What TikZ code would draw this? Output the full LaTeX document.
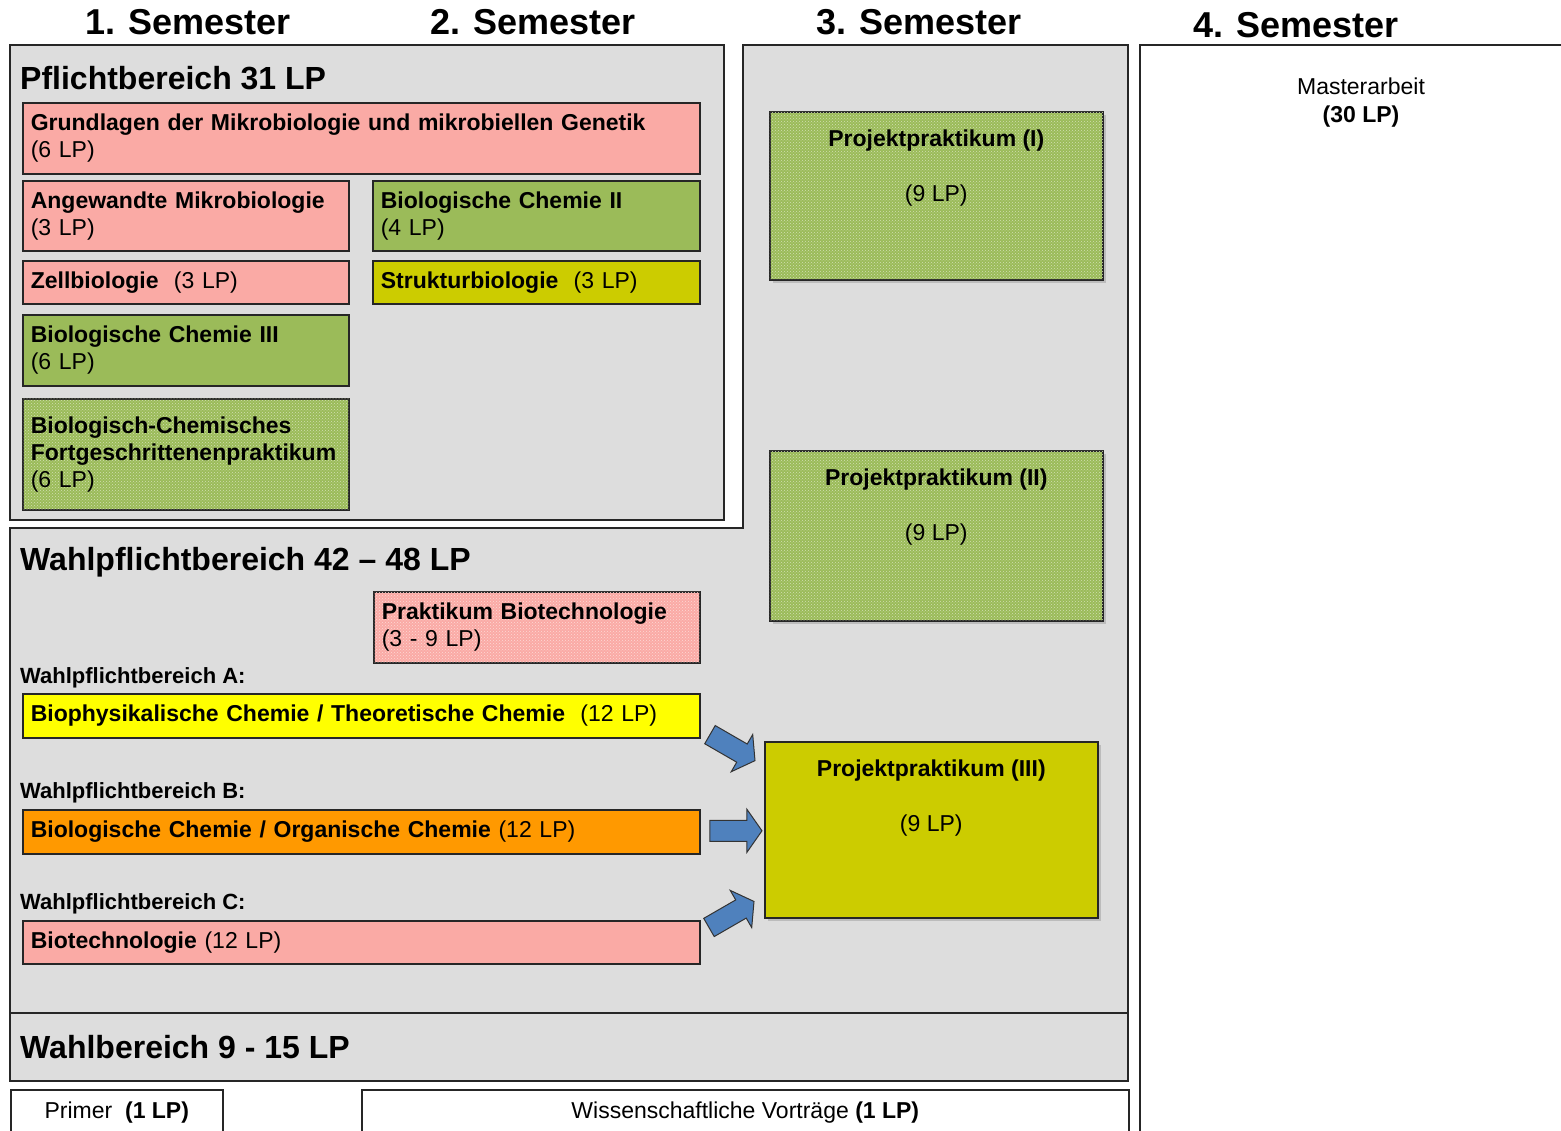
\documentclass[tikz,border=0pt]{standalone}
\usepackage{fontspec}
\setmainfont{Liberation Sans}
\usepackage{tikz}
\usetikzlibrary{arrows,shapes,positioning,shadows,patterns,calc}
\usepackage{xcolor}
\definecolor{mbgray}{RGB}{221,221,221}
\definecolor{mbpink}{RGB}{250,170,165}
\definecolor{mbgreen}{RGB}{155,187,89}
\definecolor{mbolive}{RGB}{204,204,0}
\definecolor{mbyellow}{RGB}{255,255,0}
\definecolor{mborange}{RGB}{255,153,0}
\definecolor{mbblue}{RGB}{79,129,189}
\tikzstyle{area} = [draw=black!85, line width=1.6pt, fill=mbgray]
\tikzstyle{modbox} = [draw=black!85, line width=1.6pt, anchor=north west, align=left, inner xsep=8pt, inner ysep=0pt]
\tikzstyle{grain} = [postaction={pattern=crosshatch dots, pattern color=white!55!#1}]
\tikzstyle{ppbox} = [draw=black!85, line width=1.6pt, anchor=north west, minimum width=333pt, drop shadow={shadow xshift=3pt, shadow yshift=-3pt, opacity=0.35}]
\tikzstyle{pptext} = [anchor=north, align=center, inner sep=0pt]
\tikzstyle{title} = [anchor=west, inner sep=0pt, font=\fontsize{32}{38}\selectfont\bfseries]
\tikzstyle{sublabel} = [anchor=west, inner sep=0pt, font=\fontsize{22}{26}\selectfont\bfseries]
\tikzstyle{semester} = [inner sep=0pt, font=\fontsize{36}{40}\selectfont\bfseries]
\tikzstyle{blockarrow} = [single arrow, draw=black!80, fill=mbblue, line width=1pt, inner xsep=0pt, inner ysep=10pt, minimum height=52pt, single arrow head extend=11pt, single arrow tip angle=110]

\begin{document}
\begin{tikzpicture}[x=1pt, y=-1pt, font=\fontsize{23}{27}\selectfont]
\useasboundingbox (0,0) rectangle (1561,1131);

% Semester headings
\node[semester] (sem1) at (188,22) {1. Semester};
\node[semester] (sem2) at (533,22) {2. Semester};
\node[semester] (sem3) at (919,22) {3. Semester};
\node[semester] (sem4) at (1296,25) {4. Semester};

% Areas
\draw[area] (10,45) rectangle (724,520);
\draw[area] (743,45) -- (1128,45) -- (1128,1013) -- (10,1013) -- (10,528) -- (743,528) -- cycle;
\draw[area] (10,1013) rectangle (1128,1081);
\draw[draw=black!85, line width=1.6pt] (1140,1140) -- (1140,45) -- (1570,45);

\node[title] (pflicht) at (20,78) {Pflichtbereich 31 LP};
\node[title] (wpflicht) at (20,562) {Wahlpflichtbereich 42 -- 48 LP};
\node[title] (wahl) at (20,1047) {Wahlbereich 9 - 15 LP};

% Pflichtbereich
\node[modbox, fill=mbpink, minimum width=677pt, text width=661pt, minimum height=71pt] (grund) at (22,102)
  {\textbf{Grundlagen der Mikrobiologie und mikrobiellen Genetik}\\(6 LP)};
\node[modbox, fill=mbpink, minimum width=326pt, text width=310pt, minimum height=70pt] (angew) at (22,180)
  {\textbf{Angewandte Mikrobiologie}\\(3 LP)};
\node[modbox, fill=mbgreen, minimum width=327pt, text width=311pt, minimum height=70pt] (biochII) at (372,180)
  {\textbf{Biologische Chemie II}\\(4 LP)};
\node[modbox, fill=mbpink, minimum width=326pt, text width=310pt, minimum height=43pt] (zell) at (22,260)
  {\textbf{Zellbiologie}\ \ (3 LP)};
\node[modbox, fill=mbolive, minimum width=327pt, text width=311pt, minimum height=43pt] (struktur) at (372,260)
  {\textbf{Strukturbiologie}\ \ (3 LP)};
\node[modbox, fill=mbgreen, minimum width=326pt, text width=310pt, minimum height=71pt] (biochIII) at (22,314)
  {\textbf{Biologische Chemie III}\\(6 LP)};
\node[modbox, fill=mbgreen, grain=mbgreen, minimum width=326pt, text width=310pt, minimum height=111pt] (fopra) at (22,398)
  {\textbf{Biologisch-Chemisches}\\\textbf{Fortgeschrittenenpraktikum}\\(6 LP)};

% Projektpraktika
\node[ppbox, fill=mbgreen, grain=mbgreen, minimum height=168pt] (pp1) at (769,111) {};
\node[pptext] (pp1txt) at ([yshift=-19pt]pp1.north) {\textbf{Projektpraktikum (I)}\\[28pt](9 LP)};
\node[ppbox, fill=mbgreen, grain=mbgreen, minimum height=170pt] (pp2) at (769,450) {};
\node[pptext] (pp2txt) at ([yshift=-19pt]pp2.north) {\textbf{Projektpraktikum (II)}\\[28pt](9 LP)};
\node[ppbox, fill=mbolive, minimum height=176pt] (pp3) at (764,741) {};
\node[pptext] (pp3txt) at ([yshift=-19pt]pp3.north) {\textbf{Projektpraktikum (III)}\\[28pt](9 LP)};

% Wahlpflichtbereich
\node[modbox, fill=mbpink, grain=mbpink, minimum width=326pt, text width=310pt, minimum height=71pt] (biotechpr) at (373,591)
  {\textbf{Praktikum Biotechnologie}\\(3 - 9 LP)};
\node[sublabel] (labA) at (20,678) {Wahlpflichtbereich A:};
\node[modbox, fill=mbyellow, minimum width=677pt, text width=661pt, minimum height=44pt] (biophys) at (22,693)
  {\textbf{Biophysikalische Chemie / Theoretische Chemie}\ \ (12 LP)};
\node[sublabel] (labB) at (20,793) {Wahlpflichtbereich B:};
\node[modbox, fill=mborange, minimum width=677pt, text width=661pt, minimum height=44pt] (orgchem) at (22,809)
  {\textbf{Biologische Chemie / Organische Chemie} (12 LP)};
\node[sublabel] (labC) at (20,904) {Wahlpflichtbereich C:};
\node[modbox, fill=mbpink, minimum width=677pt, text width=661pt, minimum height=43pt] (biotech) at (22,920)
  {\textbf{Biotechnologie} (12 LP)};

% Arrows into Projektpraktikum (III)
\node[blockarrow, rotate=-30] (arrA) at ($(biophys.south east)!0.5!(pp3.north west)+(-3,6)$) {};
\node[blockarrow] (arrB) at ($(orgchem.east)!0.5!(pp3.west)$) {};
\node[blockarrow, rotate=30] (arrC) at ($(biotech.north east)!0.5!(pp3.south west)+(-4,-3)$) {};

% Bottom row
\node[draw=black!85, line width=1.6pt, anchor=north west, minimum width=212pt, minimum height=46pt] (primer) at (10,1089) {Primer\ \ \textbf{(1 LP)}};
\node[draw=black!85, line width=1.6pt, anchor=north west, minimum width=767pt, minimum height=46pt] (vortrag) at (361,1089) {Wissenschaftliche Vorträge \textbf{(1 LP)}};

% 4. Semester
\node[inner sep=0pt] (master) at (1361,86) {Masterarbeit};
\node[inner sep=0pt, font=\fontsize{23}{27}\selectfont\bfseries] (masterlp) at (1361,117) {(30 LP)};
\end{tikzpicture}
\end{document}
